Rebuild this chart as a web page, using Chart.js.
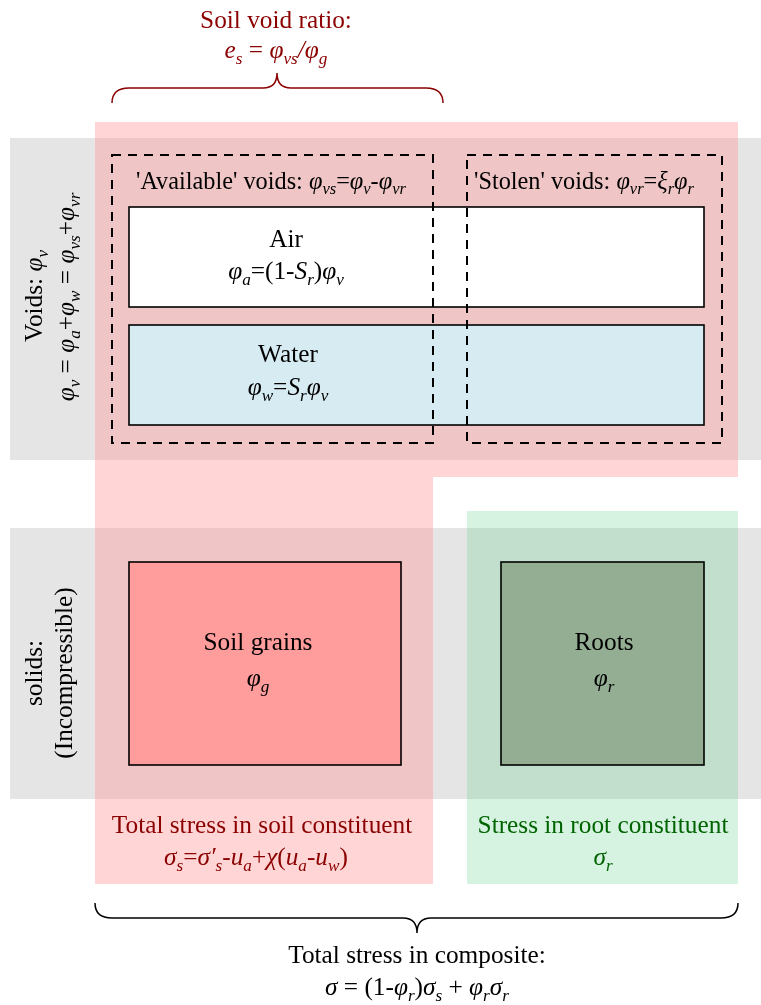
<!DOCTYPE html>
<html><head><meta charset="utf-8">
<script src="https://cdn.jsdelivr.net/npm/chart.js@4.4.1/dist/chart.umd.min.js"></script>
<style>html,body{margin:0;padding:0;background:#fff;overflow:hidden}canvas{display:block}</style>
</head><body>
<canvas id="c" width="761" height="1005"></canvas>
<script>
// ---- diagram data (diagram units: x 0..761 left->right, y 0..1005 top->bottom) ----
const phaseBands      = ['Voids', 'Solids'];
const phaseBandX      = [10, 761];
const phaseBandTop    = [138, 528];
const phaseBandBottom = [460, 799];

const soilRegionX = [95, 738, 738, 433, 433, 95];
const soilRegionY = [122, 122, 477, 477, 884, 884];
const rootRegionX = [467, 738, 738, 467];
const rootRegionY = [511, 511, 884, 884];

const voidGroups   = ["'Available' voids", "'Stolen' voids"];
const voidGroupX0  = [112, 467];
const voidGroupX1  = [433, 722];
const voidGroupY0  = [155, 155];
const voidGroupY1  = [443, 443];

const constituents = ['Air', 'Water', 'Soil grains', 'Roots'];
const constX0 = [129, 129, 129, 501];
const constX1 = [704, 704, 401, 704];
const constY0 = [207, 325, 562, 562];
const constY1 = [307, 425, 765, 765];
const constFill = ['#ffffff', '#d6ebf2', '#ff9c9c', '#94ae94'];

// braces: [x0, x1, tip x, end y, mid y, tip y]
const braceNames = ['Soil void ratio', 'Total stress in composite'];
const braceX0 = [112, 95];
const braceX1 = [443, 738];
const braceXc = [277, 417];
const braceYEnd = [103, 903];
const braceYMid = [88, 918];
const braceYTip = [73, 933];

// text labels ($...$ = italic, _{...} = subscript)
const labelText = [
  'Soil void ratio:', '$e_{s}$ = $φ_{vs}/φ_{g}$',
  "'Available' voids: $φ_{vs}$=$φ_{v}$-$φ_{vr}$",
  "'Stolen' voids: $φ_{vr}$=$ξ_{r}φ_{r}$",
  'Air', '$φ_{a}$=(1-$S_{r}$)$φ_{v}$',
  'Water', '$φ_{w}$=$S_{r}φ_{v}$',
  'Soil grains', '$φ_{g}$',
  'Roots', '$φ_{r}$',
  'Total stress in soil constituent', '$σ_{s}$=$σ′_{s}$-$u_{a}$+$χ$($u_{a}$-$u_{w}$)',
  'Stress in root constituent', '$σ_{r}$',
  'Total stress in composite:', '$σ$ = (1-$φ_{r}$)$σ_{s}$ + $φ_{r}σ_{r}$',
  'Voids: $φ_{v}$', '$φ_{v}$ = $φ_{a}$+$φ_{w}$ = $φ_{vs}$+$φ_{vr}$',
  'solids:', '(Incompressible)'
];
const labelX = [276, 276, 136, 474, 286, 286, 288, 288, 258, 258, 604, 604, 262, 256, 603, 603, 417, 417, 42, 74, 42, 72];
const labelY = [28, 58, 189, 189, 247, 279, 362, 395, 650, 686, 650, 686, 833, 865, 833, 865, 963, 995, 296, 297, 673, 673];
const labelAlign = ['c','c','l','l','c','c','c','c','c','c','c','c','c','c','c','c','c','c','c','c','c','c'];
const labelRot = [0,0,0,0,0,0,0,0,0,0,0,0,0,0,0,0,0,0,1,1,1,1];
const labelColor = ['#8b0000','#8b0000','#000','#000','#000','#000','#000','#000','#000','#000','#000','#000',
  '#8b0000','#8b0000','#006400','#006400','#000','#000','#000','#000','#000','#000'];
const labelSize = [25.3,25.3,24.3,24.3,25.3,25.3,25.3,25.3,25.3,25.3,25.3,25.3,25.3,25.3,25.3,25.3,25.3,25.3,25.3,25.3,25.3,25.3];

const FONT = '"Liberation Serif", "Times New Roman", serif';

function parseRich(str) {
  const segs = []; let italic = false; let buf = ''; let i = 0;
  const flush = () => { if (buf) { segs.push({t: buf, it: italic, sub: false}); buf = ''; } };
  while (i < str.length) {
    const ch = str[i];
    if (ch === '$') { flush(); italic = !italic; i++; continue; }
    if (ch === '_' && str[i+1] === '{') {
      flush(); const end = str.indexOf('}', i);
      segs.push({t: str.slice(i+2, end), it: italic, sub: true}); i = end + 1; continue;
    }
    buf += ch; i++;
  }
  flush();
  return segs;
}

function drawRich(ctx, str, x, y, align, size, color, rot) {
  const segs = parseRich(str);
  const fontOf = s => (s.it ? 'italic ' : '') + (s.sub ? (size*0.68).toFixed(1) : size) + 'px ' + FONT;
  let total = 0;
  segs.forEach(s => { ctx.font = fontOf(s); s.w = ctx.measureText(s.t).width; total += s.w; });
  ctx.save();
  ctx.translate(x, y);
  if (rot) ctx.rotate(-Math.PI/2);
  let cx = align === 'c' ? -total/2 : 0;
  ctx.fillStyle = color; ctx.textBaseline = 'alphabetic'; ctx.textAlign = 'left';
  segs.forEach(s => {
    ctx.font = fontOf(s);
    ctx.fillText(s.t, cx, s.sub ? size*0.22 : 0);
    cx += s.w;
  });
  ctx.restore();
}

const diagramPlugin = {
  id: 'diagram',
  afterDatasetsDraw(chart) {
    const ctx = chart.ctx;
    const X = v => chart.scales.x.getPixelForValue(v);
    const Y = v => chart.scales.y.getPixelForValue(v);
    ctx.save();
    // grey phase bands
    ctx.fillStyle = 'rgba(0,0,0,0.1)';
    phaseBands.forEach((_, i) => {
      ctx.fillRect(X(phaseBandX[0]), Y(phaseBandTop[i]), X(phaseBandX[1]) - X(phaseBandX[0]), Y(phaseBandBottom[i]) - Y(phaseBandTop[i]));
    });
    // soil and root regions
    const poly = (xs, ys, fill) => {
      ctx.beginPath();
      xs.forEach((v, i) => i ? ctx.lineTo(X(v), Y(ys[i])) : ctx.moveTo(X(v), Y(ys[i])));
      ctx.closePath(); ctx.fillStyle = fill; ctx.fill();
    };
    poly(soilRegionX, soilRegionY, 'rgba(255,145,145,0.38)');
    poly(rootRegionX, rootRegionY, 'rgba(77,200,122,0.23)');
    // constituent boxes
    ctx.lineWidth = 1.6; ctx.strokeStyle = '#000';
    constituents.forEach((_, i) => {
      const x = X(constX0[i]), y = Y(constY0[i]), w = X(constX1[i]) - x, h = Y(constY1[i]) - y;
      ctx.fillStyle = constFill[i]; ctx.fillRect(x, y, w, h); ctx.strokeRect(x, y, w, h);
    });
    // dashed void groups
    ctx.setLineDash([9, 7]); ctx.lineWidth = 2;
    voidGroups.forEach((_, i) => {
      const x = X(voidGroupX0[i]), y = Y(voidGroupY0[i]);
      ctx.strokeRect(x, y, X(voidGroupX1[i]) - x, Y(voidGroupY1[i]) - y);
    });
    ctx.setLineDash([]);
    // braces
    braceNames.forEach((_, i) => {
      const x0 = X(braceX0[i]), x1 = X(braceX1[i]), xc = X(braceXc[i]);
      const ye = Y(braceYEnd[i]), ym = Y(braceYMid[i]), yt = Y(braceYTip[i]);
      const r = 17, rc = 14;
      ctx.beginPath();
      ctx.moveTo(x0, ye);
      ctx.quadraticCurveTo(x0, ym, x0 + r, ym);
      ctx.lineTo(xc - rc, ym);
      ctx.quadraticCurveTo(xc, ym, xc, yt);
      ctx.quadraticCurveTo(xc, ym, xc + rc, ym);
      ctx.lineTo(x1 - r, ym);
      ctx.quadraticCurveTo(x1, ym, x1, ye);
      ctx.lineWidth = 1.5; ctx.strokeStyle = i === 0 ? '#8b0000' : '#000';
      ctx.stroke();
    });
    // labels
    labelText.forEach((t, i) => drawRich(ctx, t, X(labelX[i]), Y(labelY[i]), labelAlign[i], labelSize[i], labelColor[i], labelRot[i]));
    ctx.restore();
  }
};

new Chart(document.getElementById('c'), {
  type: 'scatter',
  data: { datasets: [{ data: [], pointRadius: 0 }] },
  options: {
    responsive: false, animation: false, devicePixelRatio: 1,
    layout: { padding: 0 },
    plugins: { legend: { display: false }, tooltip: { enabled: false } },
    scales: {
      x: { type: 'linear', min: 0, max: 761, display: false },
      y: { type: 'linear', min: 0, max: 1005, reverse: true, display: false }
    }
  },
  plugins: [diagramPlugin]
});
</script>
</body></html>
